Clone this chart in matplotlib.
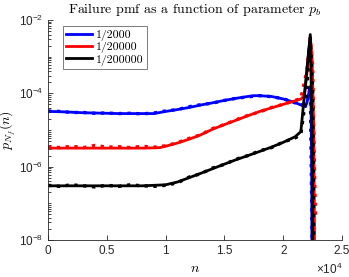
import matplotlib
matplotlib.use("Agg")
import matplotlib.pyplot as plt
from matplotlib.ticker import FixedLocator, LogLocator, NullFormatter

plt.rcParams['font.family'] = ['Liberation Sans', 'DejaVu Sans']
plt.rcParams['mathtext.fontset'] = 'custom'
plt.rcParams['mathtext.rm'] = 'Liberation Sans'
plt.rcParams['mathtext.it'] = 'Liberation Sans:italic'

# theory curves (solid)
n_blue = [0, 1000, 2000, 3000, 4000, 5000, 6000, 7000, 8000, 9000, 10000, 11000, 12000,
          13000, 14000, 15000, 16000, 17000, 17500, 18000, 19000, 20000, 21000, 21500,
          21900, 22100, 22250, 22350, 22420, 22450]
p_blue = [3.2e-5, 3.15e-5, 3.05e-5, 2.95e-5, 2.9e-5, 2.85e-5, 2.8e-5, 2.8e-5, 2.8e-5, 2.8e-5,
          3.2e-5, 3.6e-5, 4.1e-5, 4.8e-5, 5.5e-5, 6.4e-5, 7.3e-5, 8.2e-5, 8.6e-5, 8.6e-5,
          8.2e-5, 7.0e-5, 5.6e-5, 4.8e-5, 4.3e-5, 7e-5, 1.5e-4, 1.2e-4, 1e-6, 1e-10]

n_red = [0, 2000, 4000, 6000, 8000, 9000, 9500, 10000, 11000, 12000, 13000, 14000, 15000,
         16000, 17000, 18000, 19000, 20000, 21000, 21500, 21800, 22000, 22150, 22300, 22450,
         22600, 22700]
p_red = [3.2e-6, 3.2e-6, 3.2e-6, 3.2e-6, 3.2e-6, 3.25e-6, 3.3e-6, 3.6e-6, 4.4e-6, 5.6e-6,
         7.4e-6, 1.05e-5, 1.4e-5, 1.85e-5, 2.45e-5, 3.2e-5, 4.0e-5, 5.0e-5, 6.2e-5, 7.0e-5,
         8.5e-5, 3e-4, 1.2e-3, 3.5e-3, 1e-3, 1e-5, 1e-10]

n_black = [0, 2000, 4000, 6000, 8000, 10000, 11000, 12000, 13000, 14000, 15000, 16000, 17000,
           18000, 19000, 20000, 21000, 21500, 22300, 22450, 22550]
p_black = [3e-7, 3e-7, 3e-7, 3e-7, 3e-7, 3.2e-7, 3.8e-7, 5e-7, 6.6e-7, 8.8e-7, 1.17e-6,
           1.55e-6, 2e-6, 2.6e-6, 3.4e-6, 4.6e-6, 6.5e-6, 9e-6, 4e-3, 1e-5, 1e-10]

# simulation curves (dotted)
n_sim = [0, 1000, 2000, 3000, 4000, 5000, 6000, 7000, 8000, 9000, 10000, 11000, 12000, 13000,
         14000, 15000, 16000, 17000, 18000, 19000, 20000, 21000, 21500, 22000, 22300, 22500,
         22650, 22750]
s_blue = [3.3e-5, 3.2e-5, 3.0e-5, 3.0e-5, 2.85e-5, 2.9e-5, 2.8e-5, 2.85e-5, 2.75e-5, 2.9e-5,
          3.3e-5, 3.6e-5, 4.3e-5, 4.9e-5, 5.4e-5, 6.4e-5, 7.3e-5, 8.0e-5, 8.6e-5, 8.1e-5,
          7.1e-5, 5.5e-5, 4.6e-5, 6e-5, 1.4e-4, 1e-9, 1e-10, 1e-10]
s_red = [3.5e-6, 3.3e-6, 3.6e-6, 3.3e-6, 3.8e-6, 3.4e-6, 3.5e-6, 3.3e-6, 3.6e-6, 3.4e-6,
         3.7e-6, 4.5e-6, 5.9e-6, 7.4e-6, 1.1e-5, 1.4e-5, 1.9e-5, 2.5e-5, 3.1e-5, 4.1e-5,
         5.0e-5, 6.4e-5, 7.2e-5, 4e-4, 3e-3, 6e-4, 1e-6, 4e-8]
s_black = [3.1e-7, 2.9e-7, 3.2e-7, 3.0e-7, 2.8e-7, 3.1e-7, 2.9e-7, 3.2e-7, 3.0e-7, 2.9e-7,
           3.1e-7, 3.6e-7, 5.2e-7, 6.4e-7, 9.2e-7, 1.15e-6, 1.6e-6, 2.0e-6, 2.7e-6, 3.3e-6,
           4.7e-6, 6.0e-6, 7.5e-6, 1.2e-4, 3.5e-3, 1e-4, 1e-10, 1e-10]

labels = ['1/2000', '1/20000', '1/200000']
xtick_vals = [0, 5000, 10000, 15000, 20000, 25000]
xtick_labels = ['0', '0.5', '1', '1.5', '2', '2.5']
ytick_vals = [1e-8, 1e-6, 1e-4, 1e-2]

fig = plt.figure(figsize=(3.49, 2.77), dpi=100)
ax = fig.add_axes([0.1375, 0.1336, 0.8425, 0.7944])

h1, = ax.plot(n_blue, p_blue, color='#0000ff', lw=2)
ax.plot(n_sim, s_blue, color='#0000ff', lw=2.4, ls=':')
h2, = ax.plot(n_red, p_red, color='#ff0000', lw=2)
ax.plot(n_sim, s_red, color='#ff0000', lw=2.4, ls=':')
h3, = ax.plot(n_black, p_black, color='black', lw=2)
ax.plot(n_sim, s_black, color='black', lw=2.4, ls=':')

ax.set_yscale('log')
ax.set_ylim(1e-8, 1e-2)
ax.set_xlim(0, 25000)
ax.yaxis.set_major_locator(FixedLocator(ytick_vals))
ax.yaxis.set_minor_locator(LogLocator(base=10, subs=range(1, 10), numticks=100))
ax.yaxis.set_minor_formatter(NullFormatter())
ax.set_xticks(xtick_vals)
ax.set_xticklabels(xtick_labels)

axc = '0.15'
for s in ['top', 'right']:
    ax.spines[s].set_visible(False)
for s in ['left', 'bottom']:
    ax.spines[s].set_color(axc)
    ax.spines[s].set_linewidth(0.6)
ax.tick_params(which='both', direction='in', colors=axc, labelsize=8.5, width=0.6)
ax.tick_params(which='major', length=3.5)
ax.tick_params(which='minor', length=2)

ax.text(1.0, -0.1, r'$\times\mathdefault{10^{4}}$', transform=ax.transAxes,
        ha='right', va='top', fontsize=8.5, color=axc)

t = ax.set_title(r'Failure pmf as a function of parameter $p_b$', fontsize=10,
                 family='cmr10', pad=5)
t.set_math_fontfamily('cm')
xl = ax.set_xlabel(r'$n$', fontsize=10, labelpad=3)
xl.set_math_fontfamily('cm')
yl = ax.set_ylabel(r'$p_{N_f}(n)$', fontsize=10)
yl.set_math_fontfamily('cm')
ax.yaxis.set_label_coords(-0.105, 0.5)

leg = ax.legend([h1, h2, h3], labels, loc='upper left', bbox_to_anchor=(0.03, 1.0),
                prop={'family': 'cmr10', 'size': 8.5}, fancybox=False, edgecolor='0.4',
                handlelength=2.2, handletextpad=0.3, borderpad=0.3, labelspacing=0.1,
                framealpha=1)
leg.get_frame().set_linewidth(0.6)

fig.savefig('out.png', dpi=100)
